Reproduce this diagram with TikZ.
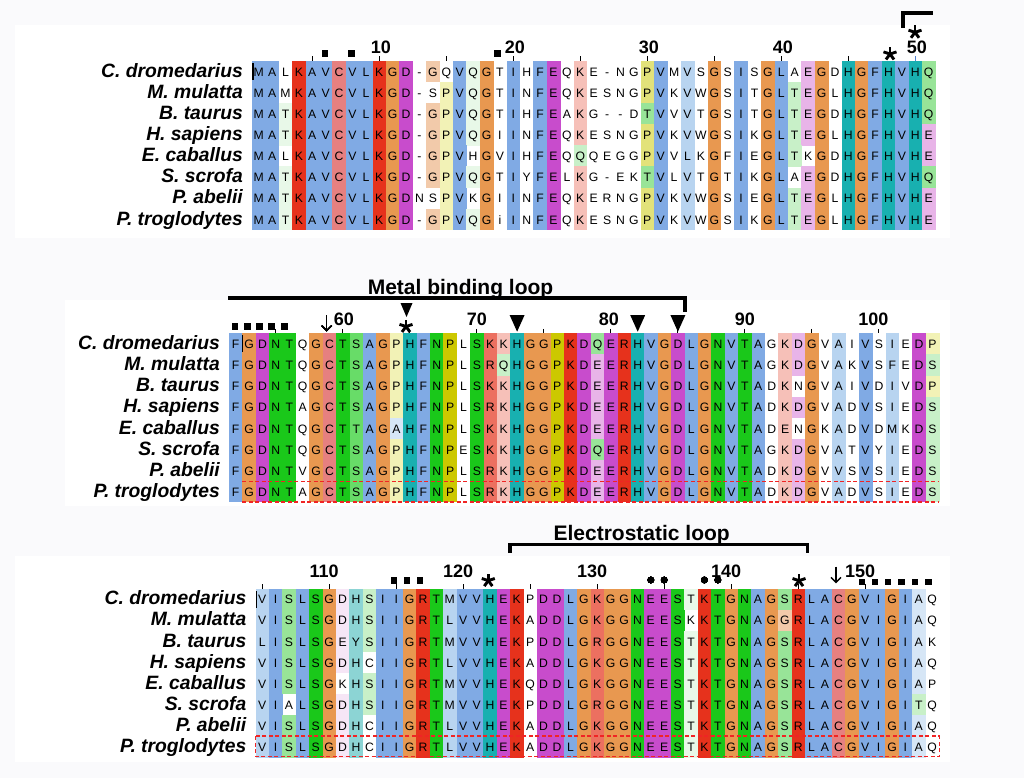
\documentclass[tikz,border=0pt]{standalone}
\usepackage{fontspec}
\setmainfont{Liberation Sans}
\usetikzlibrary{arrows.meta}

% residue colours (Clustal-like)
\definecolor{bgcol}{RGB}{250,250,252}
\definecolor{colB}{RGB}{128,170,228}
\definecolor{colR}{RGB}{230,50,28}
\definecolor{colC}{RGB}{230,128,128}
\definecolor{colO}{RGB}{232,152,80}
\definecolor{colM}{RGB}{200,76,204}
\definecolor{colG}{RGB}{26,200,26}
\definecolor{colg}{RGB}{104,220,104}
\definecolor{colL}{RGB}{152,228,152}
\definecolor{colp}{RGB}{200,240,200}
\definecolor{colv}{RGB}{232,248,232}
\definecolor{colT}{RGB}{24,176,176}
\definecolor{colt}{RGB}{140,212,212}
\definecolor{colY}{RGB}{204,200,0}
\definecolor{coly}{RGB}{226,226,122}
\definecolor{colw}{RGB}{242,242,182}
\definecolor{colS}{RGB}{236,112,96}
\definecolor{colk}{RGB}{246,192,184}
\definecolor{colm}{RGB}{232,180,232}
\definecolor{coln}{RGB}{246,230,246}
\definecolor{cole}{RGB}{242,202,170}
\definecolor{colb}{RGB}{184,212,240}
\definecolor{cola}{RGB}{214,230,246}
\definecolor{dashred}{RGB}{240,36,36}
\definecolor{tickblue}{RGB}{80,130,210}

\newcommand{\cw}{13.4}
\newcommand{\rh}{21.1}
\def\nocell{.}

\tikzset{
  res/.style={font=\fontsize{12.2}{12.2}\selectfont, inner sep=0pt, anchor=base},
  spname/.style={font=\fontsize{19.3}{19.3}\selectfont\bfseries\itshape, inner sep=0pt, anchor=base east},
  posnum/.style={font=\fontsize{18}{18}\selectfont\bfseries, inner sep=0pt, anchor=base},
  looplabel/.style={font=\fontsize{21}{21}\selectfont\bfseries, inner sep=0pt, anchor=base},
  tickmark/.style={line width=0.9pt},
  loopbar/.style={line width=3.6pt},
  dashbox/.style={draw=dashred, dash pattern=on 4pt off 2.5pt, line width=1.5pt},
  downarrow/.style={line width=1.3pt, -{Straight Barb[length=5pt,width=10pt]}}
}

% one alignment row: block, row, left x, block top, colour codes, residues, species
\makeatletter
\newcount\colno
\newcommand{\alnrow}[7]{%
  \colno=0
  \@tfor\cellcode:=#5\do{%
    \ifx\cellcode\nocell\else
      \edef\cellcol{col\cellcode}%
      \fill[fill=\cellcol] ({#3+\the\colno*\cw},{#4+(#2-1)*\rh}) rectangle ++(\cw+0.3,\rh+0.3);
    \fi
    \advance\colno by 1\relax}%
  \colno=0
  \@tfor\resch:=#6\do{%
    \node[res] (r#1-#2-\the\colno) at ({#3+(\the\colno+0.5)*\cw},{#4+(#2-0.5)*\rh+4.8}) {\resch};
    \advance\colno by 1\relax}%
  \node[spname] (sp#1-#2) at ({#3-9},{#4+(#2-0.5)*\rh+5.8}) {#7};
}
\makeatother

% marks above the columns
\newcommand{\sqmark}[2]{\fill ({#1-3.4},{#2-3.4}) rectangle ++(6.8,6.8);}
\newcommand{\astmark}[2]{%
  \foreach \ax/\ay in {0/-6.8, 6.5/-2.1, -6.5/-2.1, 4/5.5, -4/5.5}
    \draw[line width=2.9pt] ({#1},{#2}) -- ++(\ax,\ay);}
\newcommand{\trimark}[4]{\fill ({#1-#4},{#2}) -- ({#1+#4},{#2}) -- ({#1},{#3}) -- cycle;}

\begin{document}
\begin{tikzpicture}[x=1pt, y=-1pt]

  % Canvas
  \useasboundingbox (0,0) rectangle (1024,778);
  \fill[bgcol] (0,0) rectangle (1024,778);
  \fill[white] (15,25) rectangle (950,238);
  \fill[white] (65,300) rectangle (950,506);
  \fill[white] (15,556) rectangle (950,762);

  % Block 1 (1-51)
  \alnrow{1}{1}{252}{61}{BB.RBBCBBROM.e.BvO.B.BM.k....yB.b.O.B.OB.mO.TOBTBTL}{MALKAVCVLKGD-GQVQGTIHFEQKE-NGPVMVSGSISGLAEGDHGFHVHQ}{C. dromedarius}
  \alnrow{1}{2}{252}{61}{BB.RBBCBBROM..wBvO.B.BM.k....yB.b.O.B.OBpmO.TOBTBTL}{MAMKAVCVLKGD-SPVQGTINFEQKESNGPVKVWGSITGLTEGLHGFHVHQ}{M. mulatta}
  \alnrow{1}{3}{252}{61}{BBvRBBCBBROM.ewBvO.B.BM.k....LB.b.O.B.OBpmO.TOBTBTL}{MATKAVCVLKGD-GPVQGTIHFEAKG--DTVVVTGSITGLTEGDHGFHVHQ}{B. taurus}
  \alnrow{1}{4}{252}{61}{BBvRBBCBBROM.ewBvO.B.BM.k....yB.b.O.B.OBpmO.TOBTBTm}{MATKAVCVLKGD-GPVQGIINFEQKESNGPVKVWGSIKGLTEGLHGFHVHE}{H. sapiens}
  \alnrow{1}{5}{252}{61}{BB.RBBCBBROM.ewB.O.B.BM.p....yB.b.O.B.OBp.O.TOBTBTm}{MALKAVCVLKGD-GPVHGVIHFEQQQEGGPVVLKGFIEGLTKGDHGFHVHE}{E. caballus}
  \alnrow{1}{6}{252}{61}{BBvRBBCBBROM.ewBvO.B.BM.k....LB.b.O.B.OB.mO.TOBTBTL}{MATKAVCVLKGD-GPVQGTIYFELKG-EKTVLVTGTIKGLAEGDHGFHVHQ}{S. scrofa}
  \alnrow{1}{7}{252}{61}{BBvRBBCBBROM..wB.O.B.BM.k....yB.b.O.B.OBpmO.TOBTBTm}{MATKAVCVLKGDNSPVKGIINFEQKERNGPVKVWGSIEGLTEGLHGFHVHE}{P. abelii}
  \alnrow{1}{8}{252}{61}{BBvRBBCBBROM.ewBvO.B.BM.k....yB.b.O.B.OBpmO.TOBTBTm}{MATKAVCVLKGD-GPVQGiINFEQKESNGPVKVWGSIKGLTEGLHGFHVHE}{P. troglodytes}
  \draw[line width=1.6pt] (253,63) -- (253,80);

  % Block 1 ruler and marks
  \foreach \c in {5,10,...,45}
    \draw[tickmark] ({252+(\c-0.5)*\cw},56.5) -- ++(0,4.5);
  \draw[tickmark, tickblue] ({252+49.5*\cw},56.5) -- ++(0,4.5);
  \foreach \c in {10,20,...,50}
    \node[posnum] (n\c) at ({252+(\c-0.5)*\cw+1.5},53.3) {\c};
  \sqmark{325}{53.3} \sqmark{351.5}{53.3} \sqmark{497.5}{53.3}
  \astmark{890}{54}
  \astmark{915}{32.3}
  \draw[loopbar] (903,28) -- (903,13.3) -- (932.5,13.3);

  % Block 2 (52-104)
  \alnrow{2}{1}{229}{333.3}{BOMGG.OCGgBOwTBGY.GSkTOOYRMLMRTBOMBOGBGB.kmO.b.B.b.Mw}{FGDNTQGCTSAGPHFNPLSKKHGGPKDQERHVGDLGNVTAGKDGVAIVSIEDP}{C. dromedarius}
  \alnrow{2}{2}{229}{333.3}{BOMGG.OCGgBOwTBGY.GSpTOOYRMmMRTBOMBOGBGB.kmO.b.B.b.Mp}{FGDNTQGCTSAGPHFNPLSRQHGGPKDEERHVGDLGNVTAGKDGVAKVSFEDS}{M. mulatta}
  \alnrow{2}{3}{229}{333.3}{BOMGG.OCGgBOwTBGY.GSkTOOYRMmMRTBOMBOGBGB.k.O.b.B.b.Mw}{FGDNTQGCTSAGPHFNPLSKKHGGPKDEERHVGDLGNVTADKNGVAIVDIVDP}{B. taurus}
  \alnrow{2}{4}{229}{333.3}{BOMGG.OCGgBOwTBGY.GSkTOOYRMmMRTBOMBOGBGB.kmO.b.B.b.Mp}{FGDNTAGCTSAGPHFNPLSRKHGGPKDEERHVGDLGNVTADKDGVADVSIEDS}{H. sapiens}
  \alnrow{2}{5}{229}{333.3}{BOMGG.OCGgBOaTBGY.GSkTOOYRMmMRTBOMBOGBGB.k.O.b.B.b.Mp}{FGDNTQGCTTAGAHFNPLSKKHGGPKDEERHVGDLGNVTADENGKADVDMKDS}{E. caballus}
  \alnrow{2}{6}{229}{333.3}{BOMGG.OCGgBOwTBGY.GSkTOOYRMLMRTBOMBOGBGB.kmO.b.B.b.Mp}{FGDNTQGCTSAGPHFNPESKKHGGPKDQERHVGDLGNVTAGKDGVATVYIEDS}{S. scrofa}
  \alnrow{2}{7}{229}{333.3}{BOMGG.OCGgBOwTBGY.GSkTOOYRMmMRTBOMBOGBGB.kmO.b.B.b.Mp}{FGDNTVGCTSAGPHFNPLSRKHGGPKDEERHVGDLGNVTADKDGVVSVSIEDS}{P. abelii}
  \alnrow{2}{8}{229}{333.3}{BOMGG.OCGgBOwTBGY.GSkTOOYRMmMRTBOMBOGBGB.kmO.b.B.b.Mp}{FGDNTAGCTSAGPHFNPLSRKHGGPKDEERHVGDLGNVTADKDGVADVSIEDS}{P. troglodytes}
  \draw[line width=1.6pt] (242.6,335) -- (242.6,352);
  \draw[dashbox] (242.4,481.7) -- (939,481.7) (242.4,501.8) -- (939,501.8);

  % Block 2 ruler and marks
  \foreach \c in {4,9,...,49}
    \draw[tickmark] ({229+(\c-0.5)*\cw},328.8) -- ++(0,4.5);
  \foreach \c/\n/\dx in {9/60/1,19/70/0,29/80/-2,39/90/0,49/100/-5.6}
    \node[posnum] (n\n) at ({229+(\c-0.5)*\cw+\dx},325) {\n};
  \foreach \x in {235,247.3,259.5,271.8,284.3}
    \sqmark{\x}{326.7}
  \draw[downarrow] (326.7,315) -- (326.7,331.5);
  \trimark{406.5}{303}{317}{6}
  \astmark{406}{326.5}
  \foreach \c in {22,31,34}
    \trimark{229+(\c-0.5)*\cw}{315}{331.7}{7.5}
  \draw[loopbar] (228,298) -- (685,298) -- (685,312);
  \node[looplabel] (metal) at (460.5,294.5) {Metal binding loop};

  % Block 3 (105-155)
  \alnrow{3}{1}{255.5}{588.5}{bBLBGOntpBBORGbBBTMR.MMBOSOOGMMGvRGOGBOLRBBCOBBOBa.}{VISLSGDHSIIGRTMVVHEKPDDLGKGGNEESTKTGNAGSRLACGVIGIAQ}{C. dromedarius}
  \alnrow{3}{2}{255.5}{588.5}{bBLBGOntpBBORGbBBTMR.MMBOSOOGMMG.RGOGBOeRBBCOBBOBa.}{VISLSGDHSIIGRTLVVHEKADDLGKGGNEESKKTGNAGGRLACGVIGIAQ}{M. mulatta}
  \alnrow{3}{3}{255.5}{588.5}{bBLBGOntpBBORGbBBTMR.MMBOSOOGMMGvRGOGBOLRBBCOBBOBa.}{LISLSGEYSIIGRTMVVHEKPDDLGRGGNEESTKTGNAGSRLACGVIGIAK}{B. taurus}
  \alnrow{3}{4}{255.5}{588.5}{bBLBGOnt.BBORGbBBTMR.MMBOSOOGMMGvRGOGBOLRBBCOBBOBa.}{VISLSGDHCIIGRTLVVHEKADDLGKGGNEESTKTGNAGSRLACGVIGIAQ}{H. sapiens}
  \alnrow{3}{5}{255.5}{588.5}{bBLBGO.tpBBORGbBBTMR.MMBOSOOGMMGvRGOGBOLRBBCOBBOBa.}{VISLSGKHSIIGRTMVVHEKQDDLGKGGNEESTKTGNAGSRLACGVIGIAP}{E. caballus}
  \alnrow{3}{6}{255.5}{588.5}{bB.BGOntpBBORGbBBTMR.MMBOSOOGMMGvRGOGBOLRBBCOBBOBp.}{VIALSGDHSIIGRTMVVHEKPDDLGRGGNEESTKTGNAGSRLACGVIGITQ}{S. scrofa}
  \alnrow{3}{7}{255.5}{588.5}{bBLBGOnt.BBORGbBBTMR.MMBOSOOGMMGvRGOGBOLRBBCOBBOBa.}{VISLSGDHCIIGRTLVVHEKADDLGKGGNEESTKTGNAGSRLACGVIGIAQ}{P. abelii}
  \alnrow{3}{8}{255.5}{588.5}{bBLBGOnt.BBORGbBBTMR.MMBOSOOGMMGvRGOGBOLRBBCOBBOBa.}{VISLSGDHCIIGRTLVVHEKADDLGKGGNEESTKTGNAGSRLACGVIGIAQ}{P. troglodytes}
  \draw[line width=1.6pt] (256.5,591) -- (256.5,608);
  \draw[dashbox] (255.5,736.2) rectangle (939.3,756.5);

  % Block 3 ruler and marks
  \foreach \c in {1,6,...,46}
    \draw[tickmark] ({255.5+(\c-0.5)*\cw},584) -- ++(0,4.5);
  \foreach \c/\n in {6/110,16/120,26/130,36/140,46/150}
    \node[posnum] (n\n) at ({255.5+(\c-0.5)*\cw-5},577.3) {\n};
  \foreach \x in {394,407,420}
    \sqmark{\x}{580.3}
  \foreach \x in {862,875,888,901.5,915,928.5}
    \sqmark{\x}{582}
  \foreach \c in {30,31,34,35}
    \fill ({255.5+(\c-0.5)*\cw},580) circle (3.3);
  \astmark{488.3}{580.6}
  \astmark{799}{580.6}
  \draw[downarrow] (836,566.7) -- (836,583.3);
  \draw[loopbar] (510,553) -- (510,544.3) -- (807.3,544.3) -- (807.3,553);
  \node[looplabel] (elec) at (641.7,540) {Electrostatic loop};

\end{tikzpicture}
\end{document}
